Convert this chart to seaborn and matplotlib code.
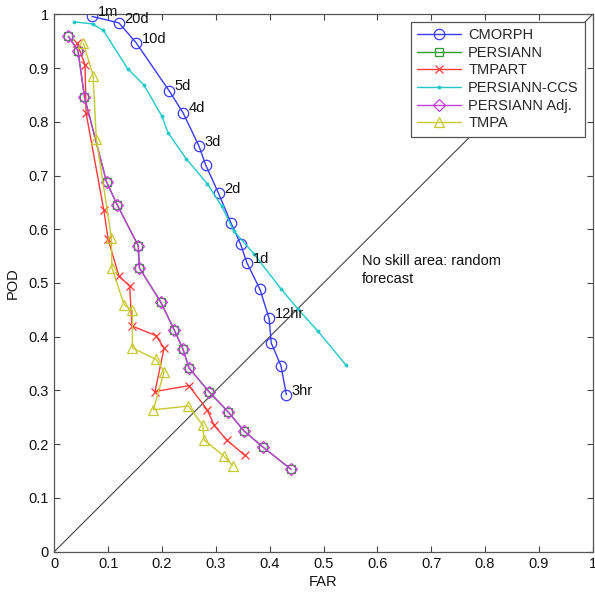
import matplotlib
matplotlib.use("Agg")
import matplotlib.pyplot as plt
import seaborn as sns
import pandas as pd

# Accumulation windows (shared by every product)
windows = ["1m", "20d", "10d", "5d", "4d", "3d", "", "2d", "", "", "1d", "", "12hr", "", "", "3hr"]

# False alarm ratio / probability of detection for each product
cmorph_far = [0.070, 0.120, 0.152, 0.213, 0.239, 0.269, 0.281, 0.305, 0.328, 0.346, 0.358, 0.382, 0.399, 0.403, 0.421, 0.431]
cmorph_pod = [0.996, 0.984, 0.947, 0.858, 0.817, 0.754, 0.720, 0.667, 0.612, 0.572, 0.537, 0.488, 0.434, 0.388, 0.346, 0.292]

persiann_far = [0.026, 0.044, 0.056, 0.097, 0.117, 0.156, 0.158, 0.198, 0.223, 0.239, 0.250, 0.287, 0.323, 0.352, 0.387, 0.440]
persiann_pod = [0.959, 0.932, 0.846, 0.688, 0.645, 0.569, 0.528, 0.464, 0.412, 0.377, 0.342, 0.298, 0.260, 0.225, 0.195, 0.153]

tmpart_far = [0.042, 0.057, 0.059, 0.092, 0.100, 0.120, 0.140, 0.144, 0.189, 0.204, 0.187, 0.250, 0.284, 0.297, 0.320, 0.354]
tmpart_pod = [0.947, 0.906, 0.816, 0.635, 0.581, 0.513, 0.494, 0.420, 0.402, 0.379, 0.298, 0.309, 0.264, 0.235, 0.208, 0.179]

ccs_far = [0.037, 0.071, 0.091, 0.136, 0.166, 0.200, 0.211, 0.245, 0.284, 0.311, 0.333, 0.371, 0.421, 0.453, 0.489, 0.542]
ccs_pod = [0.986, 0.982, 0.970, 0.899, 0.869, 0.810, 0.780, 0.731, 0.685, 0.643, 0.597, 0.554, 0.489, 0.451, 0.411, 0.347]

persiann_adj_far = [0.026, 0.044, 0.056, 0.097, 0.117, 0.156, 0.158, 0.198, 0.223, 0.239, 0.250, 0.287, 0.323, 0.352, 0.387, 0.440]
persiann_adj_pod = [0.959, 0.932, 0.846, 0.688, 0.645, 0.569, 0.528, 0.464, 0.412, 0.377, 0.342, 0.298, 0.260, 0.225, 0.195, 0.153]

tmpa_far = [0.054, 0.072, 0.078, 0.106, 0.107, 0.130, 0.145, 0.145, 0.189, 0.204, 0.184, 0.249, 0.276, 0.278, 0.315, 0.331]
tmpa_pod = [0.946, 0.886, 0.768, 0.584, 0.528, 0.459, 0.449, 0.379, 0.358, 0.335, 0.264, 0.271, 0.235, 0.208, 0.178, 0.160]

ticks = [0, 0.1, 0.2, 0.3, 0.4, 0.5, 0.6, 0.7, 0.8, 0.9, 1]
tick_labels = ["0", "0.1", "0.2", "0.3", "0.4", "0.5", "0.6", "0.7", "0.8", "0.9", "1"]

series = [
    ("CMORPH", cmorph_far, cmorph_pod, dict(color="#3a3aff", marker="o", markersize=7.5, mfc="none", mew=0.9)),
    ("PERSIANN", persiann_far, persiann_pod, dict(color="#2e9e2e", marker="s", markersize=5.5, mfc="none", mew=0.9)),
    ("TMPART", tmpart_far, tmpart_pod, dict(color="#ff3a3a", marker="x", markersize=5.5, mew=0.9)),
    ("PERSIANN-CCS", ccs_far, ccs_pod, dict(color="#22c8c8", marker="o", markersize=2.8, mew=0)),
    ("PERSIANN Adj.", persiann_adj_far, persiann_adj_pod, dict(color="#c040d8", marker="D", markersize=6.2, mfc="none", mew=0.9)),
    ("TMPA", tmpa_far, tmpa_pod, dict(color="#c8c830", marker="^", markersize=7.5, mfc="none", mew=0.9)),
]

sns.set_theme(style="ticks")
plt.rcParams["font.family"] = ["Liberation Sans", "DejaVu Sans"]

fig = plt.figure(figsize=(5.95, 5.93), dpi=100)
ax = fig.add_axes([0.0913, 0.0697, 0.9048, 0.9062])

# 1:1 no-skill line
ax.plot([0, 1], [0, 1], color="#444444", lw=0.8, zorder=1)

for name, far, pod, style in series:
    df = pd.DataFrame({"FAR": far, "POD": pod})
    sns.lineplot(data=df, x="FAR", y="POD", sort=False, estimator=None, ax=ax,
                 label=name, linewidth=1.0, markeredgecolor=style["color"],
                 **style)

# Accumulation-window labels along the CMORPH curve
for lab, x, y in zip(windows, cmorph_far, cmorph_pod):
    if lab:
        ax.annotate(lab, (x, y), xytext=(4, 3), textcoords="offset points",
                    ha="left", va="center", fontsize=10.5, color="#111111")

ax.text(0.571, 0.553, "No skill area: random\nforecast", ha="left", va="top",
        fontsize=10.5, color="#111111", linespacing=1.35)

ax.set_xlim(0, 1)
ax.set_ylim(0, 1)
ax.set_xticks(ticks)
ax.set_xticklabels(tick_labels)
ax.set_yticks(ticks)
ax.set_yticklabels(tick_labels)
ax.tick_params(direction="in", top=True, right=True, length=4, width=0.8,
               labelsize=10.5, colors="#444444", labelcolor="#111111", pad=4)
for sp in ax.spines.values():
    sp.set_visible(True)
    sp.set_color("#555555")
    sp.set_linewidth(0.9)

ax.set_xlabel("FAR", fontsize=10.5, color="#111111", labelpad=3)
ax.set_ylabel("POD", fontsize=10.5, color="#111111", labelpad=6)

leg = ax.legend(loc="upper right", fontsize=10.5, handlelength=3.0,
                labelspacing=0.25, borderpad=0.45, handletextpad=0.5,
                fancybox=False, framealpha=1, borderaxespad=0.5)
leg.get_frame().set_edgecolor("#555555")
leg.get_frame().set_linewidth(0.9)

fig.savefig("out.png", dpi=100)
